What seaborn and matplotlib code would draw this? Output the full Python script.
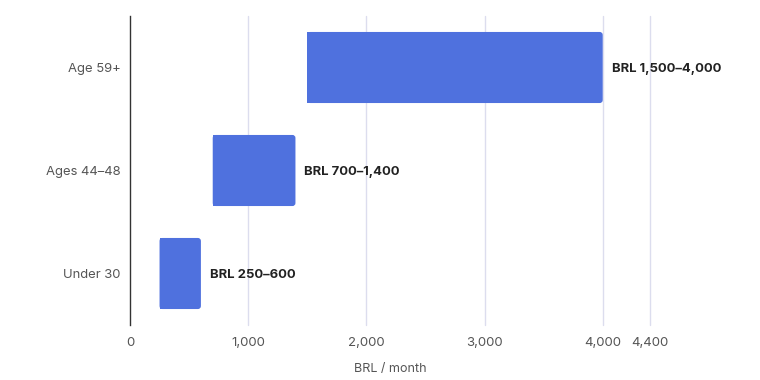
import matplotlib
matplotlib.use("Agg")
import matplotlib.pyplot as plt
import seaborn as sns
import pandas as pd
from matplotlib.patches import FancyBboxPatch

categories = ["Age 59+", "Ages 44–48", "Under 30"]
low = [1500, 700, 250]
high = [4000, 1400, 600]
labels = ["BRL 1,500–4,000", "BRL 700–1,400", "BRL 250–600"]
xticks = [0, 1000, 2000, 3000, 4000, 4400]
xtick_labels = ["0", "1,000", "2,000", "3,000", "4,000", "4,400"]

sns.set_theme(style="white")
plt.rcParams["font.family"] = ["Inter", "DejaVu Sans"]

df = pd.DataFrame({"cat": categories, "low": low, "high": high})
df["span"] = df["high"] - df["low"]

fig = plt.figure(figsize=(7.6, 3.8), dpi=100)
ax_w_px, ax_h_px = 520, 309
ax = fig.add_axes([130 / 760, 1 - 325 / 380, ax_w_px / 760, ax_h_px / 380])

XMAX = 4400
bar_color = "#4F71DE"
sns.barplot(data=df, x="span", y="cat", orient="h", color=bar_color,
            width=0.69, ax=ax, saturation=1, zorder=3)

# rounded right corners: keep square left part, add rounded full-length patch
ux = XMAX / ax_w_px          # data units per px in x
uy = 3.0 / ax_h_px           # data units per px in y
r_px = 3
for patch, lo, hi in zip(list(ax.patches), df["low"], df["high"]):
    y0 = patch.get_y()
    h = patch.get_height()
    patch.set_x(lo)
    patch.set_width((hi - lo) - 2 * r_px * ux)
    patch.set_edgecolor("none")
    fb = FancyBboxPatch((lo, y0), hi - lo, h,
                        boxstyle=f"round,pad=0,rounding_size={r_px * ux}",
                        mutation_aspect=uy / ux,
                        facecolor=bar_color, edgecolor="none", zorder=3)
    ax.add_patch(fb)

for cat_i, (hi, lab) in enumerate(zip(df["high"], labels)):
    ax.annotate(lab, xy=(hi, cat_i), xytext=(6.5, 0), textcoords="offset points",
                ha="left", va="center_baseline", fontsize=9.4, fontweight="bold",
                color="#222222")

ax.set_xlim(0, XMAX)
ax.set_ylim(2.5, -0.5)
ax.set_xticks(xticks)
ax.set_xticklabels(xtick_labels)
for xv in xticks[1:]:
    ax.axvline(xv, color="#DCDDEE", lw=1, zorder=1, clip_on=False)

ax.set_xlabel("BRL / month", fontsize=9, color="#555555", labelpad=10)
ax.set_ylabel("")
ax.tick_params(axis="x", length=0, pad=9, labelsize=9.5, labelcolor="#555555")
ax.tick_params(axis="y", length=0, pad=7, labelsize=9.4, labelcolor="#555555")

for s in ["top", "right", "bottom"]:
    ax.spines[s].set_visible(False)
ax.spines["left"].set_color("#333333")
ax.spines["left"].set_linewidth(1)
ax.spines["left"].set_zorder(4)

fig.savefig("out.png", dpi=100, facecolor="white")
